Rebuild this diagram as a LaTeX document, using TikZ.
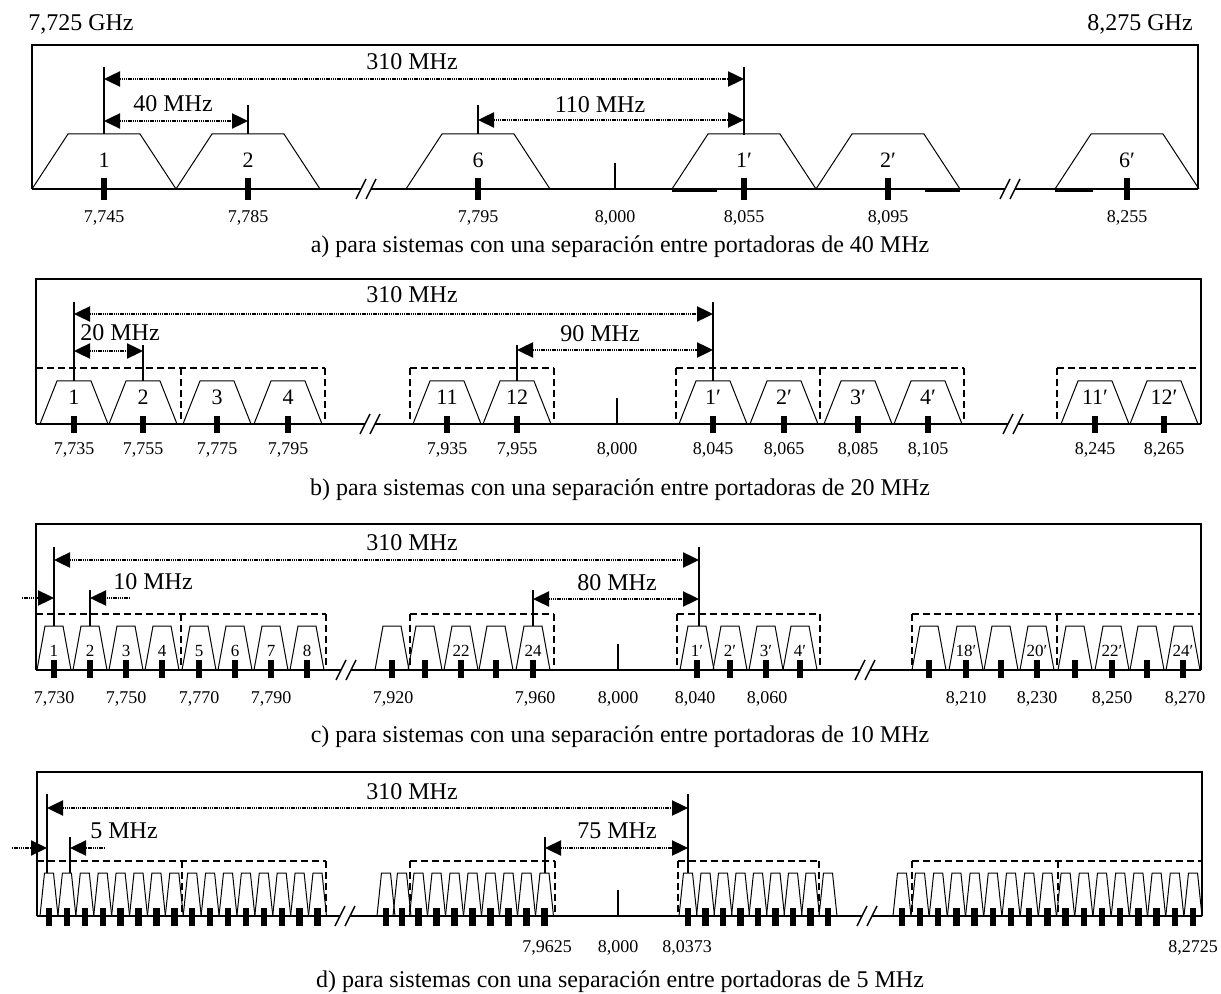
\documentclass[tikz,border=0pt]{standalone}
\usepackage{fontspec}
\setmainfont{Liberation Serif}
\usetikzlibrary{arrows.meta}
\tikzset{frame/.style={line width=0.75pt},
 axis/.style={line width=0.9pt},
 chan/.style={line width=0.5pt},
 grpbox/.style={line width=1.2pt,dash pattern=on 3.5pt off 2pt},
 chmark/.style={line width=0.75pt},
 dimarr/.style={line width=1.2pt,dash pattern=on 0.7pt off 0.4pt,
  {Triangle[length=8pt,width=7.5pt]}-{Triangle[length=8pt,width=7.5pt]}},
 dimin/.style={line width=1.2pt,dash pattern=on 0.7pt off 0.4pt,
  -{Triangle[length=8pt,width=7.5pt]}},
 freq/.style={font=\fontsize{9}{10}\selectfont,anchor=base,inner sep=0pt},
 span/.style={font=\fontsize{12}{14}\selectfont,anchor=base,inner sep=0pt},
 chno/.style={font=\fontsize{11}{12}\selectfont,anchor=base,inner sep=0pt},
 chnos/.style={font=\fontsize{8.5}{10}\selectfont,anchor=base,inner sep=0pt},
 capt/.style={font=\fontsize{12}{14}\selectfont,anchor=base,inner sep=0pt}}
% channel mask: centre, top, base, half bottom, half top
\newcommand{\trap}[5]{\draw[chan] (#1-#4,#3) -- (#1-#5,#2) -- (#1+#5,#2) -- (#1+#4,#3);}
% carrier tick: centre, y1, y2, half width
\newcommand{\ctick}[4]{\fill (#1-#4,#2) rectangle (#1+#4,#3);}
% axis break
\newcommand{\brk}[2]{\draw[chmark] (#1-10,#2+10) -- (#1,#2-10) (#1,#2+10) -- (#1+10,#2-10);}
% row of small masks: first centre, step, last index
\newcommand{\trrow}[3]{\foreach \i in {0,...,#3}{\pgfmathsetmacro\x{#1+#2*\i}
  \trap{\x}{873}{916}{9}{4.5} \ctick{\x}{908}{926}{3.2}}}

\begin{document}
\begin{tikzpicture}[x=0.5pt,y=-0.5pt]
\useasboundingbox (0,0) rectangle (1221,994);

%% a) 40 MHz
\node[span] (ghzlo) at (81,31) {7,725 GHz};
\node[span] (ghzhi) at (1140,31) {8,275 GHz};
\draw[frame] (32,189) -- (32,45) -- (1198,45) -- (1198,189);
\draw[axis] (32,189) -- (361,189) (371,189) -- (1005,189) (1015,189) -- (1198,189);
\draw[axis,line width=1.6pt] (672,190) -- (717,190) (925,190) -- (960,190) (1055,190) -- (1093,190);
\brk{366}{189} \brk{1010}{189}
\foreach \x/\n [count=\i] in {104/1,248/2,478/6,744/1′,888/2′,1127/6′}{
  \trap{\x}{134}{189}{72}{36}
  \ctick{\x}{178}{200}{3.2}
  \node[chno] (an\i) at (\x,168) {\n};}
\foreach \x/\f [count=\i] in {104/{7,745},248/{7,785},478/{7,795},615/{8,000},744/{8,055},888/{8,095},1127/{8,255}}
  \node[freq] (af\i) at (\x,223) {\f};
\draw[chmark] (615,163) -- (615,189);
\draw[chmark] (104,67) -- (104,134);
\draw[chmark] (248,105) -- (248,134);
\draw[chmark] (478,105) -- (478,134);
\draw[chmark] (744,67) -- (744,135);
\coordinate (a310l) at (104,79); \coordinate (a310r) at (744,79);
\coordinate (a40l) at (104,121); \coordinate (a40r) at (248,121);
\coordinate (a110l) at (478,120); \coordinate (a110r) at (744,120);
\draw[dimarr] (a310l) -- (a310r);
\draw[dimarr] (a40l) -- (a40r);
\draw[dimarr] (a110l) -- (a110r);
\node[span] (a310) at (412,70) {310 MHz};
\node[span] (a40) at (173,112) {40 MHz};
\node[span] (a110) at (600,113) {110 MHz};
\node[capt] (capa) at (620,253) {a) para sistemas con una separación entre portadoras de 40 MHz};

%% b) 20 MHz
\draw[frame] (36,424) -- (36,279) -- (1201,279) -- (1201,424);
\draw[axis] (36,424) -- (365,424) (375,424) -- (1008,424) (1018,424) -- (1201,424);
\brk{370}{424} \brk{1013}{424}
\foreach \l/\r in {36/325,410/554,676/964,1057/1201}
  \draw[grpbox] (\l,368) -- (\r,368);
\foreach \s in {36,181,325,410,554,676,820,964,1057,1201}
  \draw[grpbox] (\s,368) -- (\s,424);
\foreach \x/\n [count=\i] in {74/1,143/2,217/3,288/4,447/11,517/12,713/1′,784/2′,858/3′,928/4′,1095/11′,1164/12′}{
  \trap{\x}{381}{424}{34}{17}
  \ctick{\x}{416}{433}{3}
  \node[chno] (bn\i) at (\x,405) {\n};}
\foreach \x/\f [count=\i] in {74/{7,735},143/{7,755},217/{7,775},288/{7,795},447/{7,935},517/{7,955},617/{8,000},713/{8,045},784/{8,065},858/{8,085},928/{8,105},1095/{8,245},1164/{8,265}}
  \node[freq] (bf\i) at (\x,455) {\f};
\draw[chmark] (617,398) -- (617,424);
\draw[chmark] (74,302) -- (74,381);
\draw[chmark] (143,345) -- (143,381);
\draw[chmark] (517,345) -- (517,381);
\draw[chmark] (713,302) -- (713,381);
\coordinate (b310l) at (74,314); \coordinate (b310r) at (713,314);
\coordinate (b20l) at (74,351); \coordinate (b20r) at (143,351);
\coordinate (b90l) at (517,350); \coordinate (b90r) at (713,350);
\draw[dimarr] (b310l) -- (b310r);
\draw[dimarr] (b20l) -- (b20r);
\draw[dimarr] (b90l) -- (b90r);
\node[span] (b310) at (412,303) {310 MHz};
\node[span] (b20) at (120,341) {20 MHz};
\node[span] (b90) at (600,342) {90 MHz};
\node[capt] (capb) at (620,495) {b) para sistemas con una separación entre portadoras de 20 MHz};

%% c) 10 MHz
\draw[frame] (36,670) -- (36,524) -- (1201,524) -- (1201,670);
\draw[axis] (36,670) -- (341,670) (351,670) -- (860,670) (870,670) -- (1201,670);
\brk{346}{670} \brk{865}{670}
\foreach \l/\r in {36/326,410/554,677/820,912/1201}
  \draw[grpbox] (\l,614) -- (\r,614);
\foreach \s in {36,181,326,410,554,677,820,912,1057,1201}
  \draw[grpbox] (\s,614) -- (\s,670);
\foreach \x/\n [count=\i] in {54/1,90/2,126/3,162/4,199/5,235/6,271/7,307/8,392/{},425/{},461/22,496/{},533/24,697/1′,730/2′,766/3′,800/4′,929/{},966/18′,1001/{},1037/20′,1075/{},1112/22′,1147/{},1183/24′}{
  \trap{\x}{626}{670}{17}{9}
  \ctick{\x}{660}{678}{3.2}
  \node[chnos] (cn\i) at (\x,656) {\n};}
\foreach \x/\f [count=\i] in {54/{7,730},126/{7,750},199/{7,770},271/{7,790},393/{7,920},535/{7,960},618/{8,000},695/{8,040},767/{8,060},966/{8,210},1037/{8,230},1112/{8,250},1185/{8,270}}
  \node[freq] (cf\i) at (\x,703) {\f};
\draw[chmark] (618,644) -- (618,670);
\draw[chmark] (54,547) -- (54,626);
\draw[chmark] (90,590) -- (90,626);
\draw[chmark] (533,590) -- (533,626);
\draw[chmark] (699,547) -- (699,626);
\coordinate (c310l) at (54,560); \coordinate (c310r) at (699,560);
\coordinate (c10a) at (22,598); \coordinate (c10b) at (54,598);
\coordinate (c10c) at (130,598); \coordinate (c10d) at (90,598);
\coordinate (c80l) at (533,599); \coordinate (c80r) at (699,599);
\draw[dimarr] (c310l) -- (c310r);
\draw[dimin] (c10a) -- (c10b);
\draw[dimin] (c10c) -- (c10d);
\draw[dimarr] (c80l) -- (c80r);
\node[span] (c310) at (412,551) {310 MHz};
\node[span] (c10) at (153,589) {10 MHz};
\node[span] (c80) at (617,590) {80 MHz};
\node[capt] (capc) at (620,742) {c) para sistemas con una separación entre portadoras de 10 MHz};

%% d) 5 MHz
\draw[frame] (37,916) -- (37,772) -- (1202,772) -- (1202,916);
\draw[axis] (37,916) -- (340,916) (350,916) -- (862,916) (872,916) -- (1202,916);
\brk{345}{916} \brk{867}{916}
\foreach \l/\r in {37/326,410/555,678/819,912/1202}
  \draw[grpbox] (\l,861) -- (\r,861);
\foreach \s in {37,182,326,410,555,678,819,912,1058,1202}
  \draw[grpbox] (\s,861) -- (\s,916);
\trrow{49}{17.9}{15}
\trrow{386}{16}{1}
\trrow{418.5}{18}{7}
\trrow{688}{17.5}{7}
\trrow{828}{74}{1}
\trrow{920}{18.2}{15}
\foreach \x/\f [count=\i] in {547/{7,9625},618/{8,000},687/{8,0373},1193/{8,2725}}
  \node[freq] (df\i) at (\x,952) {\f};
\draw[chmark] (618,890) -- (618,916);
\draw[chmark] (47,794) -- (47,873);
\draw[chmark] (70,837) -- (70,873);
\draw[chmark] (545,837) -- (545,873);
\draw[chmark] (688,794) -- (688,873);
\coordinate (d310l) at (47,808); \coordinate (d310r) at (688,808);
\coordinate (d5a) at (12,848); \coordinate (d5b) at (47,848);
\coordinate (d5c) at (105,848); \coordinate (d5d) at (70,848);
\coordinate (d75l) at (545,848); \coordinate (d75r) at (688,848);
\draw[dimarr] (d310l) -- (d310r);
\draw[dimin] (d5a) -- (d5b);
\draw[dimin] (d5c) -- (d5d);
\draw[dimarr] (d75l) -- (d75r);
\node[span] (d310) at (412,799) {310 MHz};
\node[span] (d5) at (124,838) {5 MHz};
\node[span] (d75) at (617,838) {75 MHz};
\node[capt] (capd) at (620,987) {d) para sistemas con una separación entre portadoras de 5 MHz};
\end{tikzpicture}
\end{document}
